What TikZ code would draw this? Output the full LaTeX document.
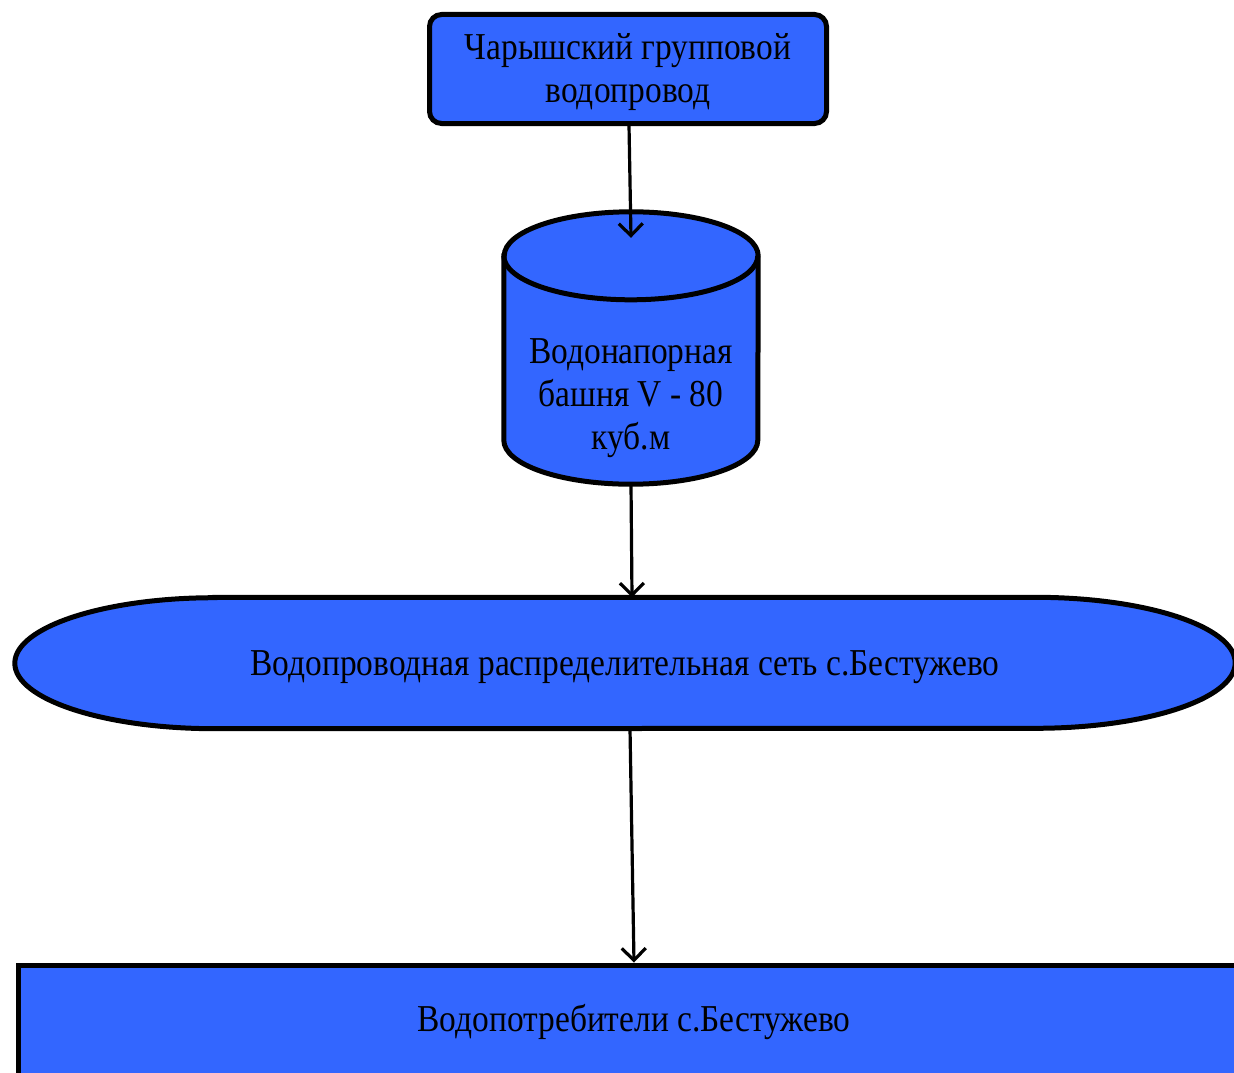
\documentclass[tikz,border=0pt]{standalone}
\usepackage{fontspec}
\setmainfont[FakeStretch=0.88]{Liberation Serif}
\usetikzlibrary{arrows.meta,positioning}
\definecolor{tankblue}{HTML}{3366FF}

\begin{document}
\begin{tikzpicture}[x=1pt, y=1pt,
	tank/.style={fill=tankblue, draw=black, line width=5pt},
	flow/.style={line width=3.2pt, -{Straight Barb[length=12pt,width=24pt]}},
	txt/.style={font=\fontsize{38}{43}\selectfont, align=center}]
	\clip (0,0) rectangle (1234,-1073);
	\node[tank, rounded corners=12pt, minimum width=397pt, minimum height=109pt] (src) at (628,-69) {};
	\node[txt] (srclbl) at ([yshift=-3pt]src.center) {Чарышский групповой\\водопровод};
	\node[minimum width=254pt, minimum height=184pt, inner sep=0pt] (tower) at (631,-348) {};
	\path[tank] (tower.north west) -- (tower.south west) arc[start angle=180, end angle=360, x radius=127pt, y radius=44pt] -- (tower.north east) arc[start angle=0, end angle=180, x radius=127pt, y radius=44pt] -- cycle;
	\draw[line width=5pt] (tower.north west) arc[start angle=180, end angle=360, x radius=127pt, y radius=44pt];
	\node[txt] (towerlbl) at ([yshift=-50pt]tower.center) {Водонапорная\\башня V - 80\\куб.м};
	\coordinate (inlet) at ([yshift=18pt]tower.north);
	\coordinate (outlet) at ([yshift=-44pt]tower.south);
	\node[minimum width=1220pt, minimum height=131pt, inner sep=0pt] (net) at (625,-663) {};
	\path[tank] ([xshift=200pt]net.north west) -- ([xshift=-200pt]net.north east) arc[start angle=90, end angle=-90, x radius=200pt, y radius=65.5pt] -- ([xshift=200pt]net.south west) arc[start angle=270, end angle=90, x radius=200pt, y radius=65.5pt] -- cycle;
	\node[txt] (netlbl) at ([yshift=-4pt]net.center) {Водопроводная распределительная сеть с.Бестужево};
	\node[tank, txt, minimum width=1232pt, minimum height=114pt] (users) at (634,-1022) {Водопотребители с.Бестужево};
	\draw[flow] (src) -- (inlet);
	\draw[flow] (outlet) -- ([xshift=1pt]outlet |- net.north);
	\draw[flow] ([xshift=5pt]net.south) -- (users.north);
\end{tikzpicture}
\end{document}
